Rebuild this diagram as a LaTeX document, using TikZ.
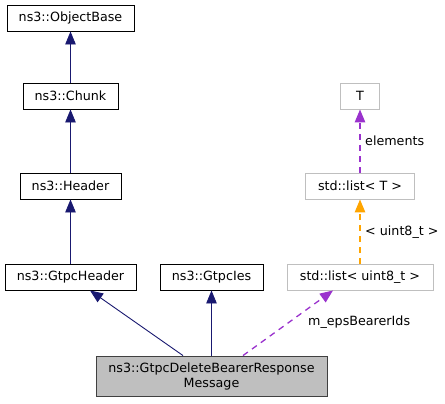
\documentclass[tikz,border=0pt]{standalone}
\usepackage{fontspec}
\setmainfont{DejaVu Sans}
\usetikzlibrary{arrows.meta}
\definecolor{navy}{HTML}{191970}
\definecolor{orchid}{HTML}{9A32CD}
\definecolor{orng}{HTML}{FFA500}
\definecolor{gborder}{HTML}{BFBFBF}
\definecolor{mainfill}{HTML}{BFBFBF}
\definecolor{mainborder}{HTML}{404040}
\tikzset{
  cls/.style={draw=black, line width=0.9bp, inner sep=0pt, minimum height=26bp, font=\fontsize{12.7bp}{15bp}\selectfont},
  tpl/.style={cls, draw=gborder},
  mainbox/.style={cls, fill=mainfill, draw=mainborder, minimum height=40bp, align=center},
  inh/.style={draw=navy, line width=0.9bp, -{Triangle[length=13bp,width=10.5bp]}},
  use/.style={draw=orchid, line width=1.3bp, dash pattern=on 6bp off 5bp, -{Triangle[length=13bp,width=10.5bp]}},
  tmpl/.style={draw=orng, line width=1.3bp, dash pattern=on 6bp off 5bp, -{Triangle[length=13bp,width=10.5bp]}},
  lbl/.style={inner sep=0pt, anchor=west, font=\fontsize{12.7bp}{15bp}\selectfont}
}
\begin{document}
\begin{tikzpicture}[x=1bp,y=-1bp]
\useasboundingbox (0,0) rectangle (445,403);
\node[cls, minimum width=127bp] (objbase) at (70.5,18) {ns3::ObjectBase};
\node[cls, minimum width=95bp] (chunk) at (70.5,96) {ns3::Chunk};
\node[cls, minimum width=101bp] (header) at (70.5,186) {ns3::Header};
\node[cls, minimum width=131bp] (gtpch) at (70.5,277) {ns3::GtpcHeader};
\node[cls, minimum width=103bp] (gtpcies) at (211.5,277) {ns3::GtpcIes};
\node[tpl, minimum width=146bp] (listu8) at (360,277) {std::list< uint8\_t >};
\node[tpl, minimum width=39bp] (T) at (360,96) {T};
\node[tpl, minimum width=109bp] (listT) at (360,186) {std::list< T >};
\node[mainbox, minimum width=231bp] (main) at (211.5,376) {ns3::GtpcDeleteBearerResponse\\Message};

\draw[inh] (chunk) -- (objbase);
\draw[inh] (header) -- (chunk);
\draw[inh] (gtpch) -- (header);
\draw[inh] ([xshift=-28.5bp]main.north) -- ([xshift=19.5bp]gtpch.south);
\draw[inh] (main.north) -- (gtpcies);
\draw[use] ([xshift=31.5bp]main.north) -- ([xshift=-27bp]listu8.south);
\draw[tmpl] (listu8) -- (listT);
\draw[use] (listT) -- (T);

\node[lbl] (lelem) at (365,141) {elements};
\node[lbl] (lu8) at (365,232) {< uint8\_t >};
\node[lbl] (leps) at (308,322) {m\_epsBearerIds};
\end{tikzpicture}
\end{document}
